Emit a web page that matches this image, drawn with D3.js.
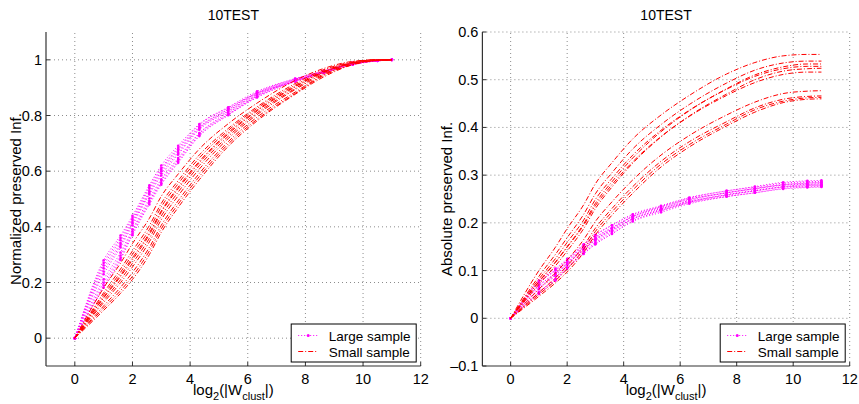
<!DOCTYPE html>
<html>
<head>
<meta charset="utf-8">
<script src="https://cdn.jsdelivr.net/npm/d3@7"></script>
<style>
  body { margin: 0; background: #fff; }
  svg text { font-family: "Liberation Sans", Arial, Helvetica, sans-serif; fill: #000; }
</style>
</head>
<body>
<svg id="chart" width="859" height="404"></svg>
<script>
// x positions: log2 of cluster count
const logW = [0, 1, 1.585, 2, 2.585, 3, 3.585, 4.322, 5.322, 6.322, 7.644, 8.644, 9.644, 10.5, 11];

// absolute preserved information, large sample runs
const largeSample = [
  [0, 0.061, 0.089, 0.113, 0.145, 0.165, 0.187, 0.213, 0.234, 0.252, 0.267, 0.276, 0.285, 0.288, 0.289],
  [0, 0.075, 0.101, 0.122, 0.154, 0.174, 0.195, 0.218, 0.236, 0.253, 0.267, 0.275, 0.283, 0.286, 0.287],
  [0, 0.054, 0.082, 0.107, 0.139, 0.159, 0.181, 0.208, 0.229, 0.247, 0.263, 0.272, 0.280, 0.284, 0.285],
  [0, 0.068, 0.095, 0.117, 0.148, 0.168, 0.189, 0.214, 0.232, 0.249, 0.263, 0.272, 0.280, 0.283, 0.284],
  [0, 0.079, 0.104, 0.124, 0.155, 0.175, 0.195, 0.217, 0.234, 0.250, 0.263, 0.271, 0.279, 0.281, 0.282],
  [0, 0.051, 0.079, 0.104, 0.135, 0.155, 0.177, 0.204, 0.225, 0.243, 0.259, 0.268, 0.276, 0.280, 0.281],
  [0, 0.064, 0.091, 0.113, 0.144, 0.163, 0.184, 0.209, 0.227, 0.244, 0.258, 0.267, 0.275, 0.278, 0.279],
  [0, 0.075, 0.100, 0.120, 0.151, 0.170, 0.190, 0.213, 0.230, 0.245, 0.259, 0.267, 0.275, 0.277, 0.278],
  [0, 0.055, 0.082, 0.106, 0.136, 0.156, 0.177, 0.203, 0.222, 0.240, 0.255, 0.263, 0.272, 0.275, 0.276],
  [0, 0.069, 0.094, 0.115, 0.145, 0.165, 0.185, 0.208, 0.226, 0.242, 0.255, 0.263, 0.271, 0.274, 0.275]
];

// absolute preserved information, small sample runs
const smallSample = [
  [0, 0.100, 0.149, 0.188, 0.238, 0.282, 0.326, 0.376, 0.426, 0.467, 0.512, 0.536, 0.550, 0.553, 0.553],
  [0, 0.088, 0.134, 0.169, 0.218, 0.261, 0.305, 0.355, 0.406, 0.448, 0.493, 0.520, 0.535, 0.539, 0.539],
  [0, 0.077, 0.118, 0.150, 0.198, 0.241, 0.286, 0.336, 0.391, 0.435, 0.481, 0.510, 0.527, 0.533, 0.533],
  [0, 0.082, 0.125, 0.159, 0.206, 0.249, 0.293, 0.342, 0.394, 0.436, 0.480, 0.507, 0.523, 0.528, 0.528],
  [0, 0.071, 0.110, 0.141, 0.188, 0.230, 0.275, 0.325, 0.380, 0.424, 0.470, 0.500, 0.518, 0.523, 0.524],
  [0, 0.076, 0.117, 0.149, 0.195, 0.236, 0.280, 0.328, 0.381, 0.423, 0.467, 0.494, 0.511, 0.516, 0.516],
  [0, 0.061, 0.095, 0.122, 0.165, 0.203, 0.244, 0.290, 0.342, 0.383, 0.426, 0.453, 0.471, 0.476, 0.477],
  [0, 0.054, 0.085, 0.110, 0.152, 0.189, 0.230, 0.276, 0.329, 0.370, 0.412, 0.441, 0.459, 0.465, 0.466],
  [0, 0.050, 0.079, 0.103, 0.145, 0.182, 0.223, 0.269, 0.323, 0.364, 0.407, 0.437, 0.455, 0.462, 0.463],
  [0, 0.046, 0.074, 0.097, 0.138, 0.175, 0.216, 0.262, 0.317, 0.359, 0.403, 0.432, 0.452, 0.459, 0.460]
];

const xTicks = [0, 2, 4, 6, 8, 10, 12];
const normTicks = [0, 0.2, 0.4, 0.6, 0.8, 1];
const absTicks = [-0.1, 0, 0.1, 0.2, 0.3, 0.4, 0.5, 0.6];
const legendLabels = ["Large sample", "Small sample"];

const svg = d3.select("#chart");
const plotTop = 32, plotBottom = 366;
const magenta = "#ff00ff", red = "#ff0000";

const panels = [
  {left: 46, right: 420.7, yDomain: [-0.1, 1.1], yTicks: normTicks, ylabel: "Normalized preserved Inf.", labelX: 21, normalize: true},
  {left: 482.4, right: 849.7, yDomain: [-0.1, 0.6], yTicks: absTicks, ylabel: "Absolute preserved Inf.", labelX: 452, normalize: false}
];

const fmt = d => String(Math.round(d * 10) / 10).replace("-", "\u2013");

panels.forEach(p => {
  const x = d3.scaleLinear().domain([-1, 12]).range([p.left, p.right]);
  const y = d3.scaleLinear().domain(p.yDomain).range([plotBottom, plotTop]);
  const g = svg.append("g");

  // grid
  g.selectAll(".vgrid").data(xTicks).enter().append("line")
    .attr("x1", d => x(d)).attr("x2", d => x(d))
    .attr("y1", plotBottom).attr("y2", plotTop)
    .attr("stroke", "#8c8c8c").attr("stroke-width", 1).attr("stroke-dasharray", "1,3");
  g.selectAll(".hgrid").data(p.yTicks.filter(d => d > p.yDomain[0])).enter().append("line")
    .attr("x1", p.left).attr("x2", p.right)
    .attr("y1", d => y(d)).attr("y2", d => y(d))
    .attr("stroke", "#8c8c8c").attr("stroke-width", 1).attr("stroke-dasharray", "1,3");

  const line = d3.line()
    .x((d, i) => x(logW[i]))
    .y(d => y(d))
    .curve(d3.curveMonotoneX);

  // normalized = share of the final (all-clusters) value
  const prep = arr => p.normalize ? arr.map(v => v / arr[arr.length - 1]) : arr;

  // large sample: dotted with point markers
  largeSample.forEach(run => {
    const vals = prep(run);
    g.append("path").attr("d", line(vals))
      .attr("fill", "none").attr("stroke", magenta).attr("stroke-width", 1)
      .attr("stroke-dasharray", "1,2");
    g.selectAll(null).data(vals).enter().append("circle")
      .attr("cx", (d, i) => x(logW[i])).attr("cy", d => y(d))
      .attr("r", 1.3).attr("fill", magenta);
  });

  // small sample: dash-dot
  smallSample.forEach(run => {
    const vals = prep(run);
    g.append("path").attr("d", line(vals))
      .attr("fill", "none").attr("stroke", red).attr("stroke-width", 1)
      .attr("stroke-dasharray", "5,2,1,2");
  });

  // axis lines (box off: left and bottom only)
  g.append("line").attr("x1", p.left).attr("x2", p.left).attr("y1", plotTop).attr("y2", plotBottom)
    .attr("stroke", "#333").attr("stroke-width", 1.2);
  g.append("line").attr("x1", p.left).attr("x2", p.right).attr("y1", plotBottom).attr("y2", plotBottom)
    .attr("stroke", "#333").attr("stroke-width", 1.2);

  // ticks
  g.selectAll(".xt").data(xTicks).enter().append("line")
    .attr("x1", d => x(d)).attr("x2", d => x(d))
    .attr("y1", plotBottom).attr("y2", plotBottom - 4).attr("stroke", "#333");
  g.selectAll(".yt").data(p.yTicks).enter().append("line")
    .attr("x1", p.left).attr("x2", p.left + 4)
    .attr("y1", d => y(d)).attr("y2", d => y(d)).attr("stroke", "#333");

  g.selectAll(".xl").data(xTicks).enter().append("text")
    .attr("x", d => x(d)).attr("y", 384)
    .attr("text-anchor", "middle").attr("font-size", 14.5)
    .text(d => d);
  g.selectAll(".yl").data(p.yTicks).enter().append("text")
    .attr("x", p.left - 4).attr("y", d => y(d) + 5)
    .attr("text-anchor", "end").attr("font-size", 14.5)
    .text(fmt);

  // title
  const cx = (p.left + p.right) / 2;
  g.append("text").attr("x", cx).attr("y", 20)
    .attr("text-anchor", "middle").attr("font-size", 14).text("10TEST");

  // x label with subscripts
  const xl = g.append("text").attr("x", cx).attr("y", 395)
    .attr("text-anchor", "middle").attr("font-size", 15);
  xl.append("tspan").text("log");
  xl.append("tspan").attr("dy", 5).attr("font-size", 11).text("2");
  xl.append("tspan").attr("dy", -5).text("(|W");
  xl.append("tspan").attr("dy", 5).attr("font-size", 11).text("clust");
  xl.append("tspan").attr("dy", -5).text("|)");

  // y label
  g.append("text")
    .attr("transform", `translate(${p.labelX},${(plotTop + plotBottom) / 2}) rotate(-90)`)
    .attr("text-anchor", "middle").attr("font-size", 15).text(p.ylabel);

  // legend
  const lw = 125, lh = 38;
  const lx = p.right - 4.5 - lw, ly = plotBottom - 4 - lh;
  const lg = g.append("g").attr("transform", `translate(${lx},${ly})`);
  lg.append("rect").attr("width", lw).attr("height", lh)
    .attr("fill", "#fff").attr("stroke", "#000").attr("stroke-width", 1);
  legendLabels.forEach((lab, i) => {
    const yy = 11.5 + i * 16;
    lg.append("line").attr("x1", 7).attr("x2", 27).attr("y1", yy).attr("y2", yy)
      .attr("stroke", i === 0 ? magenta : red).attr("stroke-width", 1)
      .attr("stroke-dasharray", i === 0 ? "1,2" : "5,2,1,2");
    if (i === 0) lg.append("circle").attr("cx", 17).attr("cy", yy).attr("r", 1.5).attr("fill", magenta);
    lg.append("text").attr("x", 37.5).attr("y", yy + 5).attr("font-size", 13.5).text(lab);
  });
});
</script>
</body>
</html>
